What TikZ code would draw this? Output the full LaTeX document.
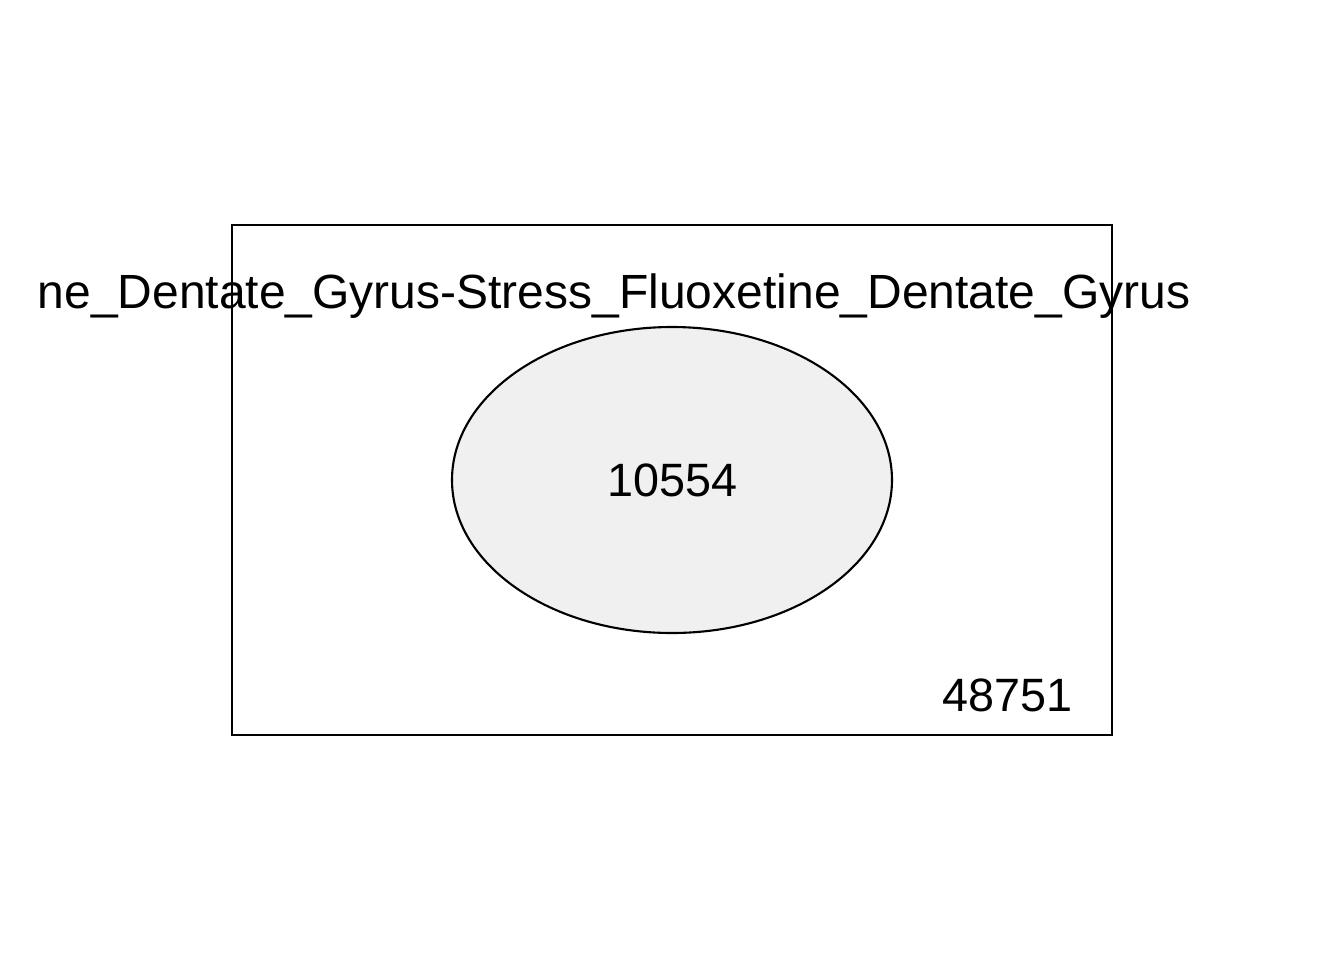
\documentclass[tikz,border=0pt]{standalone}
\usepackage{fontspec}
\setmainfont{Liberation Sans}
\usepackage{tikz}
\definecolor{setgray}{HTML}{F0F0F0}

\begin{document}
\begin{tikzpicture}[x=0.01cm, y=-0.01cm]
        \useasboundingbox (0, 0) rectangle (1344, 960);
        \draw[line width=0.6pt] (232, 225) rectangle (1112, 735);
        \draw[line width=0.6pt, fill=setgray] (672, 480) ellipse [x radius=220, y radius=153];
        \node[anchor=base west, inner sep=0pt, font=\fontsize{13.65}{16}\selectfont] (setname) at (37, 308) {ne\_Dentate\_Gyrus-Stress\_Fluoxetine\_Dentate\_Gyrus};
        \node[inner sep=0pt, font=\fontsize{13.3}{16}\selectfont] (inside) at (673, 480.5) {10554};
        \node[inner sep=0pt, font=\fontsize{13.3}{16}\selectfont] (outside) at (1007.5, 695.5) {48751};
    \end{tikzpicture}
\end{document}
